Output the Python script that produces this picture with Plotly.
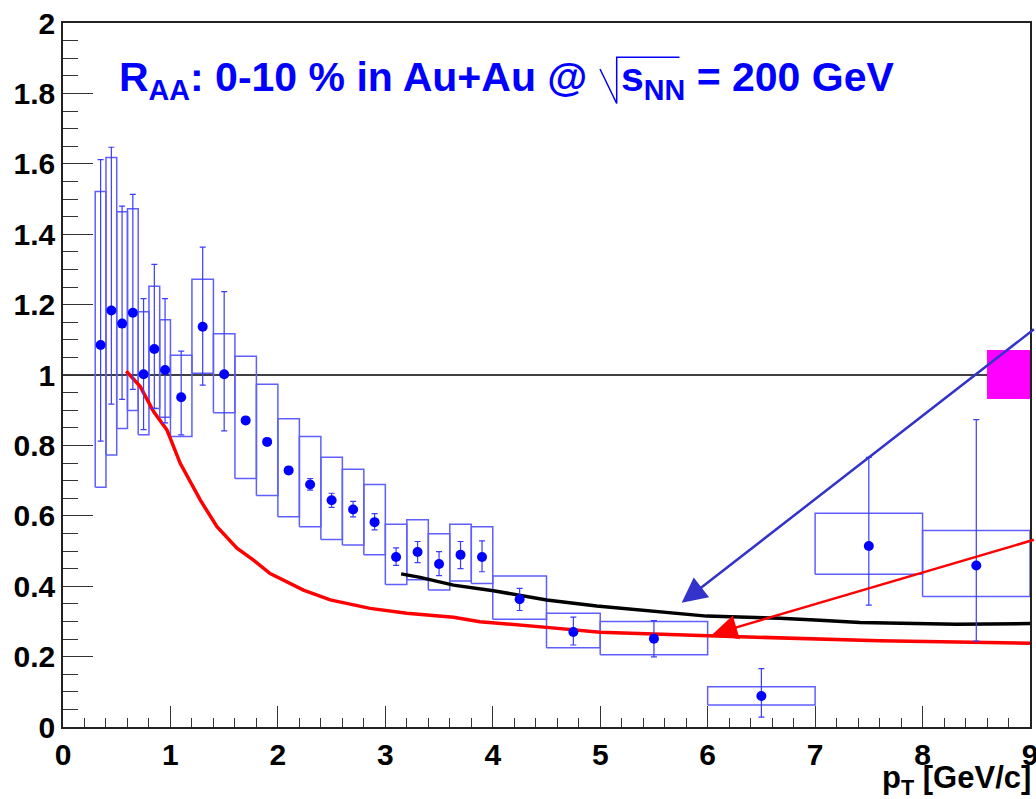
import plotly.graph_objects as go

# ---------------- data ----------------
pt = [0.35, 0.45, 0.55, 0.65, 0.75, 0.85, 0.95, 1.1, 1.3, 1.5, 1.7, 1.9, 2.1, 2.3, 2.5,
      2.7, 2.9, 3.1, 3.3, 3.5, 3.7, 3.9, 4.25, 4.75, 5.5, 6.5, 7.5, 8.5]
pt_halfwidth = [0.05, 0.05, 0.05, 0.05, 0.05, 0.05, 0.05, 0.1, 0.1, 0.1, 0.1, 0.1, 0.1, 0.1, 0.1,
                0.1, 0.1, 0.1, 0.1, 0.1, 0.1, 0.1, 0.25, 0.25, 0.5, 0.5, 0.5, 0.5]
raa = [1.085, 1.183, 1.146, 1.177, 1.002, 1.074, 1.014, 0.937, 1.137, 1.002, 0.871, 0.810, 0.729,
       0.689, 0.644, 0.618, 0.582, 0.483, 0.497, 0.463, 0.489, 0.483, 0.363, 0.270, 0.251, 0.088,
       0.514, 0.459]
stat_hi = [1.612, 1.647, 1.480, 1.513, 1.217, 1.314, 1.217, 1.068, 1.363, 1.237, 0.880, 0.820, 0.739,
           0.706, 0.664, 0.641, 0.606, 0.509, 0.527, 0.498, 0.527, 0.529, 0.394, 0.312, 0.302, 0.166,
           0.766, 0.873]
stat_lo = [0.812, 0.917, 0.931, 0.959, 0.845, 0.905, 0.864, 0.830, 0.971, 0.841, 0.862, 0.800, 0.719,
           0.673, 0.624, 0.597, 0.560, 0.459, 0.467, 0.430, 0.450, 0.441, 0.331, 0.233, 0.199, 0.028,
           0.346, 0.244]
sys_hi = [1.521, 1.618, 1.464, 1.472, 1.180, 1.252, 1.157, 1.056, 1.272, 1.117, 1.053, 0.974, 0.876,
          0.825, 0.766, 0.732, 0.689, 0.576, 0.589, 0.549, 0.576, 0.569, 0.429, 0.323, 0.300, 0.114,
          0.607, 0.558]
sys_lo = [0.681, 0.773, 0.848, 0.899, 0.830, 0.905, 0.880, 0.825, 1.005, 0.893, 0.706, 0.658, 0.597,
          0.569, 0.533, 0.517, 0.489, 0.405, 0.418, 0.389, 0.415, 0.408, 0.306, 0.225, 0.205, 0.0625,
          0.434, 0.371]

red_x = [0.589, 0.719, 0.843, 0.967, 1.091, 1.277, 1.433, 1.619, 1.773, 1.928, 2.238, 2.487, 2.858,
         3.2, 3.634, 3.881, 4.502, 4.998, 6.006, 7.044, 7.6, 9.0]
red_y = [1.011, 0.967, 0.896, 0.844, 0.749, 0.645, 0.569, 0.508, 0.474, 0.436, 0.389, 0.361, 0.337,
         0.323, 0.312, 0.299, 0.283, 0.269, 0.259, 0.249, 0.245, 0.238]

black_x = [3.147, 3.324, 3.634, 4.006, 4.502, 4.967, 5.991, 6.672, 7.044, 7.417, 8.316, 9.0]
black_y = [0.435, 0.425, 0.403, 0.387, 0.361, 0.344, 0.315, 0.309, 0.303, 0.297, 0.292, 0.294]

norm_x = [8.6, 9.0]
norm_y = [0.932, 1.071]

blue_arrow = {"tail": (9.05, 1.133), "tip": (5.758, 0.353)}
red_arrow = {"tail": (9.05, 0.533), "tip": (6.043, 0.263)}

x_ticks = list(range(0, 10))
y_ticks = [0, 0.2, 0.4, 0.6, 0.8, 1, 1.2, 1.4, 1.6, 1.8, 2]

# ---------------- figure ----------------
FONT = "Liberation Sans, Arial, sans-serif"
W, H = 1036, 799
L, R, T, B = 63, 6, 23, 72

fig = go.Figure()

# systematic boxes as one outline trace
bx, by = [], []
for c, hw, lo, hi in zip(pt, pt_halfwidth, sys_lo, sys_hi):
    bx += [c - hw, c + hw, c + hw, c - hw, c - hw, None]
    by += [lo, lo, hi, hi, lo, None]
fig.add_trace(go.Scatter(x=bx, y=by, mode="lines", line=dict(color="rgb(95,95,255)", width=1.5),
                         hoverinfo="skip", showlegend=False))

# normalization box
fig.add_trace(go.Scatter(x=[norm_x[0], norm_x[1], norm_x[1], norm_x[0], norm_x[0]],
                         y=[norm_y[0], norm_y[0], norm_y[1], norm_y[1], norm_y[0]],
                         mode="lines", fill="toself", fillcolor="#ff00ff",
                         line=dict(color="#ff00ff", width=0), showlegend=False))

fig.add_trace(go.Scatter(x=black_x, y=black_y, mode="lines", line=dict(color="black", width=3.5),
                         showlegend=False))
fig.add_trace(go.Scatter(x=red_x, y=red_y, mode="lines", line=dict(color="#ff0000", width=3.5),
                         showlegend=False))

fig.add_trace(go.Scatter(
    x=pt, y=raa, mode="markers",
    marker=dict(color="#0000ff", size=10),
    error_y=dict(type="data", symmetric=False,
                 array=[h - v for h, v in zip(stat_hi, raa)],
                 arrayminus=[v - l for l, v in zip(stat_lo, raa)],
                 color="rgb(60,60,255)", thickness=1.2, width=3),
    showlegend=False))

# unity line
fig.add_shape(type="line", xref="x", yref="y", x0=0, x1=9, y0=1, y1=1,
              line=dict(color="black", width=1.3), layer="below")

# arrows
for arr, col in ((blue_arrow, "#3333cc"), (red_arrow, "#ff0000")):
    fig.add_annotation(x=arr["tip"][0], y=arr["tip"][1], ax=arr["tail"][0], ay=arr["tail"][1],
                       xref="x", yref="y", axref="x", ayref="y", text="", showarrow=True,
                       arrowhead=2, arrowsize=2, arrowwidth=2.5, arrowcolor=col, standoff=0)


def px(xp):
    return (xp - L) / (W - L - R)


def py(yp):
    return (H - B - yp) / (H - T - B)


tfont = dict(family=FONT, size=41, color="#0000ff", weight="bold")
fig.add_annotation(xref="paper", yref="paper", x=px(117), y=py(80), xanchor="left", yanchor="middle",
                   text="R<sub>AA</sub>: 0-10 % in Au+Au @", showarrow=False, font=tfont)
fig.add_annotation(xref="paper", yref="paper", x=px(619), y=py(80), xanchor="left", yanchor="middle",
                   text="s<sub>NN</sub> = 200 GeV", showarrow=False, font=tfont)
# sqrt sign
fig.add_shape(type="path", xref="paper", yref="paper",
              path=f"M{px(600)},{py(69)} L{px(616.7)},{py(103.5)} L{px(616.7)},{py(57.3)} L{px(679.5)},{py(57.3)}",
              line=dict(color="#0000ff", width=1.5))

# x-axis title
fig.add_annotation(xref="paper", yref="paper", x=px(1033), y=py(780), xanchor="right", yanchor="middle",
                   text="p<sub>T</sub> [GeV/c]", showarrow=False,
                   font=dict(family=FONT, size=31, color="black", weight="bold"))

axfont = dict(family=FONT, size=30, color="black", weight="bold")
fig.update_xaxes(range=[0, 9], tickvals=x_ticks, ticktext=[str(v) for v in x_ticks],
                 ticks="inside", ticklen=21, tickwidth=1, tickcolor="#333",
                 minor=dict(dtick=0.2, ticks="inside", ticklen=9, tickwidth=1, tickcolor="#333"),
                 showline=True, linecolor="#222", linewidth=1.5, mirror=True, automargin=False,
                 ticklabeloverflow="allow",
                 showgrid=False, zeroline=False, tickfont=axfont)
fig.update_yaxes(range=[0, 2], tickvals=y_ticks, ticktext=[f"{v:g}" for v in y_ticks],
                 ticks="inside", ticklen=30, tickwidth=1, tickcolor="#333",
                 minor=dict(dtick=0.05, ticks="inside", ticklen=15, tickwidth=1, tickcolor="#333"),
                 showline=True, linecolor="#222", linewidth=1.5, mirror=True, automargin=False,
                 ticklabeloverflow="allow",
                 showgrid=False, zeroline=False, tickfont=axfont)

fig.update_layout(width=W, height=H, margin=dict(l=L, r=R, t=T, b=B, pad=0, autoexpand=False),
                  plot_bgcolor="white", paper_bgcolor="white", showlegend=False)

fig.write_html("out.html")
